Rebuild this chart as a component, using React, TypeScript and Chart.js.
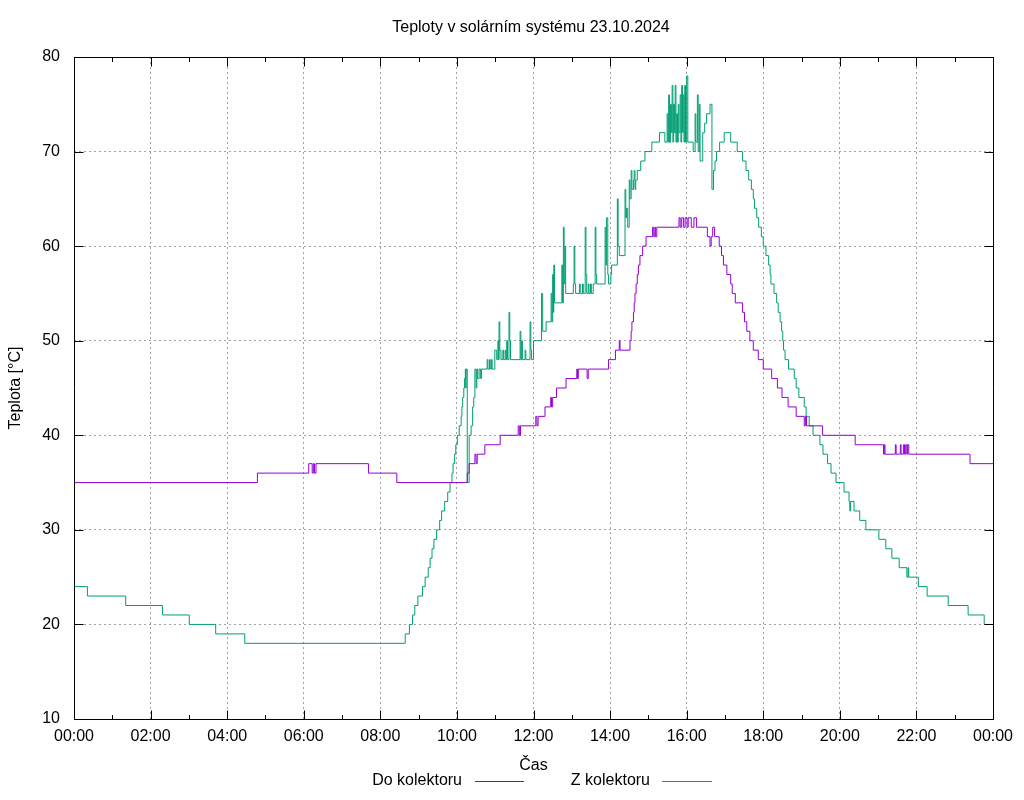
import { useEffect, useRef } from 'react';
import { Chart, registerables } from 'chart.js';

Chart.register(...registerables);

const TITLE = 'Teploty v solárním systému 23.10.2024';
const X_TITLE = 'Čas';
const Y_TITLE = 'Teplota [°C]';
const SERIES_NAMES = ['Do kolektoru', 'Z kolektoru'];
const SERIES_COLORS = ['#9400d3', '#009e73'];
const X_MAJOR_HOURS = [0, 2, 4, 6, 8, 10, 12, 14, 16, 18, 20, 22, 24];
const X_MINOR_HOURS = [1, 3, 5, 7, 9, 11, 13, 15, 17, 19, 21, 23];
const Y_TICKS = [10, 20, 30, 40, 50, 60, 70, 80];

// [hour, °C] change points (step data)
const doKolektoru: [number, number][] = [
  [0, 35], [4.79, 36], [6.13, 37], [6.22, 36], [6.25, 37], [6.28, 36], [6.32, 37],
  [7.69, 36], [8.43, 35], [10.27, 36], [10.32, 37], [10.47, 38], [10.5, 37], [10.53, 38],
  [10.73, 39], [11.13, 40], [11.6, 41], [11.63, 40], [11.66, 41],
  [12.06, 42], [12.09, 41], [12.12, 42], [12.3, 43], [12.45, 44], [12.47, 43], [12.5, 44],
  [12.6, 45], [12.85, 46], [13.13, 47], [13.15, 46], [13.17, 47], [13.4, 46], [13.43, 47],
  [13.96, 48], [14.14, 49], [14.24, 50], [14.26, 49],
  [14.52, 50], [14.55, 51], [14.57, 52], [14.61, 53], [14.63, 54], [14.65, 55], [14.68, 56],
  [14.71, 57], [14.74, 58], [14.78, 59], [14.85, 60], [14.94, 61],
  [15.11, 62], [15.14, 61], [15.17, 62], [15.19, 61], [15.22, 62],
  [15.8, 63], [15.83, 62], [15.87, 63], [15.92, 62], [15.96, 63], [16.01, 62], [16.04, 63],
  [16.12, 62], [16.19, 63], [16.26, 62],
  [16.54, 61], [16.61, 60], [16.64, 61], [16.68, 62], [16.73, 61], [16.85, 60], [16.91, 59],
  [16.96, 58], [17.05, 57], [17.15, 56], [17.19, 55], [17.27, 54], [17.46, 53], [17.51, 52],
  [17.57, 51], [17.65, 50], [17.74, 49], [17.87, 48], [18.0, 47], [18.22, 46], [18.37, 45],
  [18.49, 44], [18.65, 43], [18.86, 42], [19.07, 41], [19.1, 42], [19.13, 41], [19.55, 40],
  [20.4, 39], [21.14, 38], [21.16, 39], [21.18, 38], [21.45, 39], [21.47, 38], [21.58, 39],
  [21.6, 38], [21.66, 39], [21.69, 38], [21.72, 39], [21.75, 38], [21.77, 39], [21.8, 38],
  [23.4, 37], [24, 37],
];

const zKolektoru: [number, number][] = [
  [0, 24], [0.35, 23], [1.35, 22], [2.31, 21], [3.01, 20], [3.7, 19], [4.46, 18],
  [8.65, 19], [8.76, 20], [8.84, 21], [8.9, 22], [8.98, 23], [9.1, 24], [9.17, 25], [9.25, 26],
  [9.3, 27], [9.35, 28], [9.4, 29], [9.47, 30], [9.55, 31], [9.6, 32], [9.68, 33], [9.76, 34],
  [9.82, 35], [9.87, 36], [9.9, 37], [9.94, 38], [9.97, 39], [10.01, 40], [10.06, 41],
  [10.11, 42], [10.13, 43], [10.15, 44], [10.18, 45], [10.2, 46], [10.22, 47], [10.23, 45],
  [10.24, 47], [10.27, 35], [10.32, 40], [10.37, 41], [10.41, 43], [10.44, 44], [10.47, 47],
  [10.5, 45], [10.52, 47], [10.54, 46], [10.58, 47], [10.62, 46], [10.64, 47], [10.79, 48],
  [10.81, 47], [10.85, 48], [10.87, 47], [10.9, 48], [10.92, 47], [10.99, 49], [11.04, 48],
  [11.07, 50], [11.09, 48], [11.1, 52], [11.12, 49], [11.15, 48], [11.2, 49], [11.22, 48],
  [11.26, 49], [11.28, 48], [11.3, 50], [11.32, 48], [11.36, 53], [11.38, 50], [11.4, 48],
  [11.65, 51], [11.67, 48], [11.69, 50], [11.71, 48], [11.78, 49], [11.8, 48], [11.91, 52],
  [11.93, 49], [11.95, 48], [12.0, 50], [12.21, 55], [12.24, 51], [12.33, 52], [12.46, 55],
  [12.48, 52], [12.5, 57], [12.52, 53], [12.53, 58], [12.55, 54], [12.74, 58], [12.76, 54],
  [12.78, 62], [12.8, 56], [12.82, 60], [12.84, 55], [13.04, 56], [13.06, 60], [13.08, 56],
  [13.1, 55], [13.2, 56], [13.22, 55], [13.28, 56], [13.3, 55], [13.35, 62], [13.37, 57],
  [13.39, 55], [13.43, 56], [13.45, 55], [13.49, 56], [13.51, 55], [13.56, 56], [13.61, 62],
  [13.63, 57], [13.65, 56], [13.87, 62], [13.89, 58], [13.91, 63], [13.94, 57], [13.96, 56],
  [14.02, 57], [14.04, 58], [14.19, 65], [14.21, 60], [14.24, 59], [14.39, 66], [14.41, 63],
  [14.43, 64], [14.46, 62], [14.5, 67], [14.52, 65], [14.55, 68], [14.57, 66], [14.61, 67],
  [14.63, 68], [14.65, 66], [14.67, 67], [14.71, 68], [14.8, 69], [14.91, 70], [15.09, 71],
  [15.29, 72], [15.43, 71], [15.49, 74], [15.51, 71], [15.53, 76], [15.55, 71], [15.58, 75],
  [15.6, 72], [15.62, 77], [15.64, 71], [15.66, 75], [15.68, 72], [15.7, 77], [15.72, 71],
  [15.74, 74], [15.76, 71], [15.78, 75], [15.8, 72], [15.83, 76], [15.85, 71], [15.87, 77],
  [15.89, 72], [15.91, 76], [15.93, 71], [15.95, 77], [15.97, 71], [16.0, 78], [16.03, 71],
  [16.17, 70], [16.22, 74], [16.24, 71], [16.28, 76], [16.3, 70], [16.33, 75], [16.35, 69],
  [16.42, 72], [16.47, 73], [16.52, 74], [16.61, 75], [16.66, 66], [16.7, 68], [16.74, 69],
  [16.78, 70], [16.86, 71], [16.98, 72], [17.15, 71], [17.32, 70], [17.46, 69], [17.55, 68],
  [17.62, 67], [17.69, 66], [17.74, 65], [17.77, 64], [17.83, 63], [17.88, 62], [17.95, 61],
  [18.0, 60], [18.07, 59], [18.14, 58], [18.18, 57], [18.2, 56], [18.28, 55], [18.35, 54],
  [18.39, 53], [18.44, 52], [18.48, 51], [18.51, 50], [18.53, 49], [18.57, 48], [18.66, 47],
  [18.81, 46], [18.86, 45], [18.93, 44], [19.07, 43], [19.12, 42], [19.2, 41], [19.3, 40],
  [19.48, 39], [19.56, 38], [19.68, 37], [19.77, 36], [19.9, 35], [20.11, 34], [20.24, 33],
  [20.26, 32], [20.28, 33], [20.37, 32], [20.52, 31], [20.68, 30], [21.02, 29], [21.2, 28],
  [21.36, 27], [21.55, 26], [21.75, 25], [21.78, 26], [21.8, 25], [22.05, 24], [22.28, 23],
  [22.83, 22], [23.35, 21], [23.77, 20], [24, 20],
];

const FONT_FAMILY = '"Liberation Sans", Arial, sans-serif';
const FONT_SIZE = 16;

const fmtHour = (v: number) => String(Math.round(v) % 24).padStart(2, '0') + ':00';

const LEGEND_ENTRIES = [
  { textRight: 462, lineFrom: 475, lineTo: 524 },
  { textRight: 650, lineFrom: 662, lineTo: 712 },
];

const gnuplotDecor = {
  id: 'gnuplotDecor',
  afterDraw(chart: any) {
    const { ctx, chartArea } = chart;
    const xs = chart.scales.x;
    const ys = chart.scales.y;
    const L = Math.round(chartArea.left) + 0.5;
    const R = Math.round(chartArea.right) + 0.5;
    const T = Math.round(chartArea.top) + 0.5;
    const B = Math.round(chartArea.bottom) + 0.5;
    ctx.save();
    ctx.strokeStyle = '#000';
    ctx.lineWidth = 1;
    ctx.setLineDash([]);
    ctx.beginPath();
    const tick = (h: number, len: number) => {
      const px = Math.round(xs.getPixelForValue(h)) + 0.5;
      ctx.moveTo(px, B); ctx.lineTo(px, B - len);
      ctx.moveTo(px, T); ctx.lineTo(px, T + len);
    };
    X_MAJOR_HOURS.forEach((h) => tick(h, 9));
    X_MINOR_HOURS.forEach((h) => tick(h, 4.5));
    Y_TICKS.forEach((v) => {
      const py = Math.round(ys.getPixelForValue(v)) + 0.5;
      ctx.moveTo(L, py); ctx.lineTo(L + 9, py);
      ctx.moveTo(R, py); ctx.lineTo(R - 9, py);
    });
    ctx.stroke();
    ctx.beginPath();
    ctx.rect(L, T, R - L, B - T);
    ctx.stroke();
    ctx.restore();

    // title
    ctx.save();
    ctx.fillStyle = '#000';
    ctx.font = `${FONT_SIZE}px ${FONT_FAMILY}`;
    ctx.textAlign = 'center';
    ctx.textBaseline = 'middle';
    ctx.fillText(TITLE, 531, 28);
    ctx.restore();

    // legend (text, then line sample)
    const ly = 781;
    LEGEND_ENTRIES.forEach((e, i) => {
      ctx.save();
      ctx.font = `${FONT_SIZE}px ${FONT_FAMILY}`;
      ctx.textAlign = 'right';
      ctx.textBaseline = 'middle';
      ctx.fillStyle = '#000';
      ctx.fillText(SERIES_NAMES[i], e.textRight, ly);
      ctx.fillStyle = SERIES_COLORS[i];
      ctx.fillRect(e.lineFrom, ly, e.lineTo - e.lineFrom, 1);
      ctx.restore();
    });
  },
};

export default function App() {
  const canvasRef = useRef<HTMLCanvasElement | null>(null);

  useEffect(() => {
    const canvas = canvasRef.current;
    if (!canvas) return;
    const font = { family: FONT_FAMILY, size: FONT_SIZE };
    const chart = new Chart(canvas, {
      type: 'line',
      data: {
        datasets: [
          {
            label: SERIES_NAMES[0],
            data: doKolektoru.map(([x, y]) => ({ x, y })),
            borderColor: SERIES_COLORS[0],
            backgroundColor: SERIES_COLORS[0],
            borderWidth: 1,
            pointRadius: 0,
            stepped: 'before',
            fill: false,
          },
          {
            label: SERIES_NAMES[1],
            data: zKolektoru.map(([x, y]) => ({ x, y })),
            borderColor: SERIES_COLORS[1],
            backgroundColor: SERIES_COLORS[1],
            borderWidth: 1,
            pointRadius: 0,
            stepped: 'before',
            fill: false,
          },
        ],
      },
      options: {
        responsive: false,
        animation: false,
        events: [],
        layout: { padding: { top: 57, right: 31, left: 0, bottom: 0 } },
        plugins: {
          legend: { display: false },
          title: { display: false },
          tooltip: { enabled: false },
        },
        scales: {
          x: {
            type: 'linear',
            min: 0,
            max: 24,
            afterFit: (s: any) => { s.height = 81; },
            ticks: {
              stepSize: 2,
              autoSkip: false,
              maxRotation: 0,
              padding: 8,
              color: '#000',
              font,
              callback: (v: any) => fmtHour(Number(v)),
            },
            grid: { color: '#a0a0a0', lineWidth: 1, drawTicks: false },
            border: { display: false, dash: [2, 3] },
            title: {
              display: true,
              text: X_TITLE,
              color: '#000',
              font,
              padding: { top: 0, bottom: 25 },
            },
          },
          y: {
            type: 'linear',
            min: 10,
            max: 80,
            afterFit: (s: any) => { s.width = 74; },
            ticks: { stepSize: 10, padding: 14, color: '#000', font },
            grid: { color: '#a0a0a0', lineWidth: 1, drawTicks: false },
            border: { display: false, dash: [2, 3] },
            title: {
              display: true,
              text: Y_TITLE,
              color: '#000',
              font,
              padding: { top: 6, bottom: 0 },
            },
          },
        },
      },
      plugins: [gnuplotDecor],
    });
    return () => chart.destroy();
  }, []);

  return (
    <div style={{ position: 'fixed', left: 0, top: 0, width: 1024, height: 800, background: '#fff' }}>
      <canvas ref={canvasRef} width={1024} height={800} style={{ display: 'block' }} />
    </div>
  );
}
